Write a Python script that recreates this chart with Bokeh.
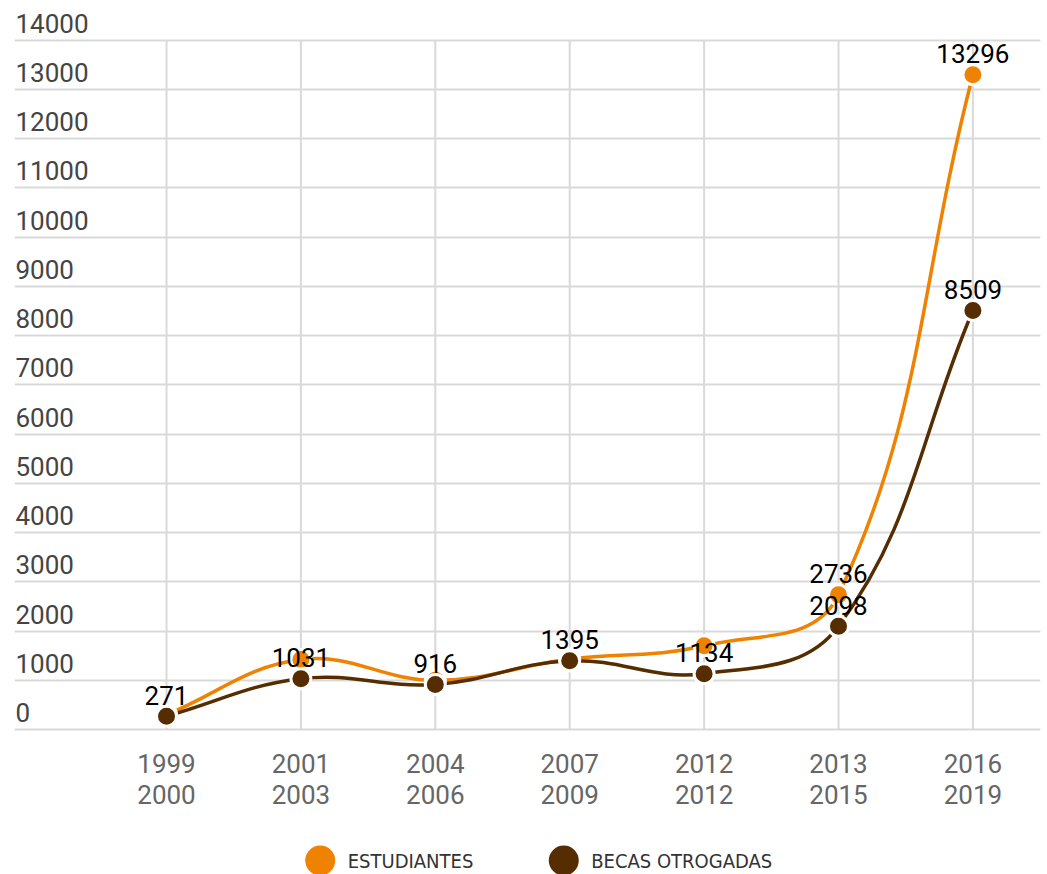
import math
import numpy as np
from bokeh.plotting import figure
from bokeh.models import Range1d, FixedTicker, Grid, ColumnDataSource
from bokeh.layouts import column
from bokeh.embed import file_html
from bokeh.resources import INLINE
from bokeh.core.properties import value

# ---------------- data ----------------
periods = ["1999\n2000", "2001\n2003", "2004\n2006", "2007\n2009",
           "2012\n2012", "2013\n2015", "2016\n2019"]
estudiantes = [300, 1420, 1000, 1430, 1700, 2736, 13296]
becas = [271, 1031, 916, 1395, 1134, 2098, 8509]
estudiantes_labelled = [False, False, False, False, False, True, True]
becas_labelled = [True, True, True, True, True, True, True]
series_names = ["ESTUDIANTES", "BECAS OTROGADAS"]
series_colors = ["#EF8200", "#552D00"]
y_ticks = list(range(0, 14001, 1000))

# ---------------- layout constants ----------------
W = 1047
MAIN_H = 820
LEG_H = 54
X_START, X_END = -1.131, 6.503
Y_START, Y_END = -40, 14640
PX_X = 134.4      # pixels per category step
PX_Y = 0.04925    # pixels per unit value
FONT = "Roboto"

idx = list(range(len(periods)))


def spline_segments(xs, ys, t=0.4):
    """Chart.js-style cubic bezier control points (computed in pixel space)."""
    n = len(xs)
    px = np.array(xs, float) * PX_X
    py = np.array(ys, float) * PX_Y
    prev_c, next_c = [], []
    for i in range(n):
        pi, ni = max(i - 1, 0), min(i + 1, n - 1)
        d01 = math.hypot(px[i] - px[pi], py[i] - py[pi])
        d12 = math.hypot(px[ni] - px[i], py[ni] - py[i])
        s = d01 + d12
        fa = t * d01 / s if s else 0.0
        fb = t * d12 / s if s else 0.0
        dx, dy = px[ni] - px[pi], py[ni] - py[pi]
        prev_c.append(((px[i] - fa * dx) / PX_X, (py[i] - fa * dy) / PX_Y))
        next_c.append(((px[i] + fb * dx) / PX_X, (py[i] + fb * dy) / PX_Y))
    seg = dict(x0=[], y0=[], x1=[], y1=[], cx0=[], cy0=[], cx1=[], cy1=[])
    for i in range(n - 1):
        seg["x0"].append(xs[i]); seg["y0"].append(ys[i])
        seg["x1"].append(xs[i + 1]); seg["y1"].append(ys[i + 1])
        seg["cx0"].append(next_c[i][0]); seg["cy0"].append(next_c[i][1])
        seg["cx1"].append(prev_c[i + 1][0]); seg["cy1"].append(prev_c[i + 1][1])
    return seg


p = figure(width=W, height=MAIN_H, output_backend="svg", toolbar_location=None,
           x_range=Range1d(X_START, X_END), y_range=Range1d(Y_START, Y_END),
           y_axis_location=None, x_axis_location="below",
           min_border_left=14, min_border_right=7, min_border_top=8,
           min_border_bottom=89)
p.outline_line_color = None
p.background_fill_color = "white"
p.border_fill_color = "white"
p.xgrid.grid_line_color = None

# horizontal grid
p.add_layout(Grid(dimension=1, ticker=FixedTicker(ticks=y_ticks),
                  grid_line_color="#d9d9d9", grid_line_width=2))
# vertical grid lines between 0 and top tick
p.segment(x0=idx, y0=[y_ticks[0]] * len(idx), x1=idx, y1=[y_ticks[-1]] * len(idx),
          line_color="#d9d9d9", line_width=2)

# x axis
xa = p.xaxis[0]
xa.ticker = FixedTicker(ticks=idx)
xa.major_label_overrides = {i: lab for i, lab in zip(idx, periods)}
xa.axis_line_color = None
xa.major_tick_line_color = None
xa.minor_tick_line_color = None
xa.major_tick_out = 0
xa.major_label_standoff = 17
xa.major_label_text_font = FONT
xa.major_label_text_font_size = "26px"
xa.major_label_text_line_height = 1.05
xa.major_label_text_color = "#666666"

# y tick labels above grid lines
p.text(x=[X_START] * len(y_ticks), y=y_ticks, text=[str(v) for v in y_ticks],
       x_offset=1, y_offset=-17, text_baseline="alphabetic", text_align="left",
       text_font=value(FONT), text_font_size="26px", text_color="#444444")

# lines
for vals, col in [(estudiantes, series_colors[0]), (becas, series_colors[1])]:
    seg = spline_segments(idx, vals)
    p.bezier(source=ColumnDataSource(seg), x0="x0", y0="y0", x1="x1", y1="y1",
             cx0="cx0", cy0="cy0", cx1="cx1", cy1="cy1",
             line_color=col, line_width=3.5, line_cap="round")

# markers
for vals, col in [(estudiantes, series_colors[0]), (becas, series_colors[1])]:
    p.scatter(x=idx, y=vals, size=20, fill_color=col, line_color="white",
              line_width=3)

# data labels
for vals, show in [(estudiantes, estudiantes_labelled), (becas, becas_labelled)]:
    xs = [i for i, s in zip(idx, show) if s]
    ys = [v for v, s in zip(vals, show) if s]
    p.text(x=xs, y=ys, text=[str(v) for v in ys], y_offset=-21,
           text_align="center", text_baseline="alphabetic",
           text_font=value(FONT), text_font_size="26px", text_color="#000000")

# ---------------- legend ----------------
leg = figure(width=W, height=LEG_H, output_backend="svg", toolbar_location=None,
             x_range=Range1d(0, W), y_range=Range1d(874, 874 - LEG_H),
             x_axis_location=None, y_axis_location=None,
             min_border=0)
leg.outline_line_color = None
leg.xgrid.visible = False
leg.ygrid.visible = False
legend_x = [312, 560.5]
leg.scatter(x=legend_x, y=[860, 860], size=30, fill_color=series_colors,
            line_color=None)
leg.text(x=[x + 28 for x in legend_x], y=[860.5, 860.5], text=series_names,
         text_baseline="alphabetic", text_align="left",
         text_font=value("Liberation Sans Narrow, DejaVu Sans Condensed, sans-serif"),
         text_font_size="20px", text_color="#333333")

layout = column(p, leg, spacing=0)
open("out.html", "w").write(file_html(layout, INLINE))
